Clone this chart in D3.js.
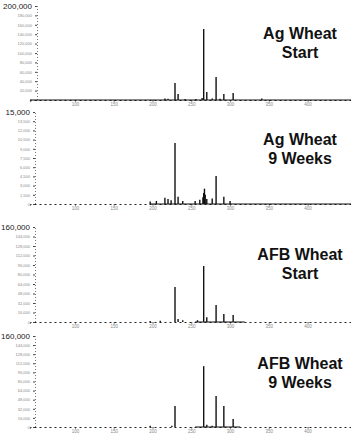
<!DOCTYPE html>
<html>
<head>
<meta charset="utf-8">
<script src="https://cdn.jsdelivr.net/npm/d3@7"></script>
<style>
  body { margin: 0; background: #fff; }
  svg { display: block; font-family: "Liberation Sans", Arial, sans-serif; }
</style>
</head>
<body>
<div id="chart"></div>
<script>
// spectra: [m/z, intensity]
const titles = [["Ag Wheat", "Start"], ["Ag Wheat", "9 Weeks"], ["AFB Wheat", "Start"], ["AFB Wheat", "9 Weeks"]];
const yMax = [200000, 15000, 160000, 160000];
const xTicks = [100, 150, 200, 250, 300, 350, 400];

const agStart = [[216, 3000], [220, 2500], [229, 36000], [233, 13000], [242, 2000], [256, 2000], [264, 4000],
  [266, 151000], [270, 17000], [277, 3000], [282, 49000], [287, 2500], [292, 13000], [304, 15000], [341, 3000]];
const ag9Weeks = [[197, 400], [205, 500], [216, 1000], [220, 800], [224, 600], [229, 9950], [233, 1200], [239, 500],
  [255, 500], [261, 700], [265, 1100], [266, 1800], [267, 2500], [268, 1500], [270, 800], [277, 900],
  [282, 4560], [292, 1200], [300, 500]];
const afbStart = [[197, 1500], [210, 2000], [229, 59000], [233, 5000], [239, 3000], [258, 3000], [266, 94300],
  [270, 8000], [282, 28600], [292, 13500], [304, 11800]];
const afb9Weeks = [[197, 2000], [225, 2000], [229, 37000], [266, 107000], [270, 4000], [277, 2000],
  [282, 54500], [292, 37000], [304, 14000]];
const spectra = [agStart, ag9Weeks, afbStart, afb9Weeks];

// parts of each baseline that print solid (rest is broken/dotted in the scan)
const solidParts = [[[42, 456]], [[197, 456]], [[255, 319]], [[255, 313]]];

const width = 351, height = 434;
const panels = [{top: 6, base: 100}, {top: 112, base: 204}, {top: 227, base: 322}, {top: 336, base: 427}];

const svg = d3.select("#chart").append("svg")
    .attr("width", width)
    .attr("height", height);

const x = d3.scaleLinear().domain([42, 456]).range([30, 351]);

panels.forEach((p, i) => {
    const y = d3.scaleLinear().domain([0, yMax[i]]).range([p.base, p.top]);
    const g = svg.append("g").attr("class", "panel");

    // y axis, scan leaves only the top label readable
    const yAxis = d3.axisLeft(y)
        .tickValues(d3.range(0, yMax[i] + 1, yMax[i] / 10))
        .tickSize(2)
        .tickPadding(3)
        .tickFormat(d3.format(","));
    const yg = g.append("g")
        .attr("transform", `translate(${i == 0 ? 37 : 35},0)`)
        .call(yAxis);
    yg.select(".domain").attr("stroke", "#777").attr("stroke-dasharray", "1,2");
    yg.selectAll(".tick line").attr("stroke", "#444");
    yg.selectAll(".tick text")
        .attr("fill", "#888")
        .style("font-size", "4px");
    yg.selectAll(".tick").filter(d => d == yMax[i]).select("text")
        .attr("fill", "#222")
        .style("font-size", "8px");

    // x axis
    const xAxis = d3.axisBottom(x).tickValues(xTicks).tickSize(1.5).tickPadding(1);
    const xg = g.append("g")
        .attr("transform", `translate(0,${p.base})`)
        .call(xAxis);
    xg.select(".domain").attr("stroke", "#222").attr("stroke-dasharray", "2,3");
    xg.selectAll(".tick line").attr("stroke", "#333");
    xg.selectAll(".tick text").attr("fill", "#888").style("font-size", "4.5px");

    g.selectAll(".solid")
        .data(solidParts[i])
        .enter().append("line")
        .attr("class", "solid")
        .attr("x1", d => x(d[0]))
        .attr("x2", d => x(d[1]))
        .attr("y1", p.base)
        .attr("y2", p.base)
        .attr("stroke", "#111")
        .attr("stroke-width", 1.2);

    // peaks
    g.selectAll(".peak")
        .data(spectra[i])
        .enter().append("line")
        .attr("class", "peak")
        .attr("x1", d => x(d[0]))
        .attr("x2", d => x(d[0]))
        .attr("y1", y(0))
        .attr("y2", d => y(d[1]))
        .attr("stroke", "#111")
        .attr("stroke-width", 1.4);

    // title
    const t = g.append("text")
        .attr("x", 300)
        .attr("y", p.top + 33)
        .attr("text-anchor", "middle")
        .style("font-size", "16px")
        .style("font-weight", "bold")
        .attr("fill", "#111");
    t.append("tspan").attr("x", 300).text(titles[i][0]);
    t.append("tspan").attr("x", 300).attr("dy", 19).text(titles[i][1]);
});
</script>
</body>
</html>
